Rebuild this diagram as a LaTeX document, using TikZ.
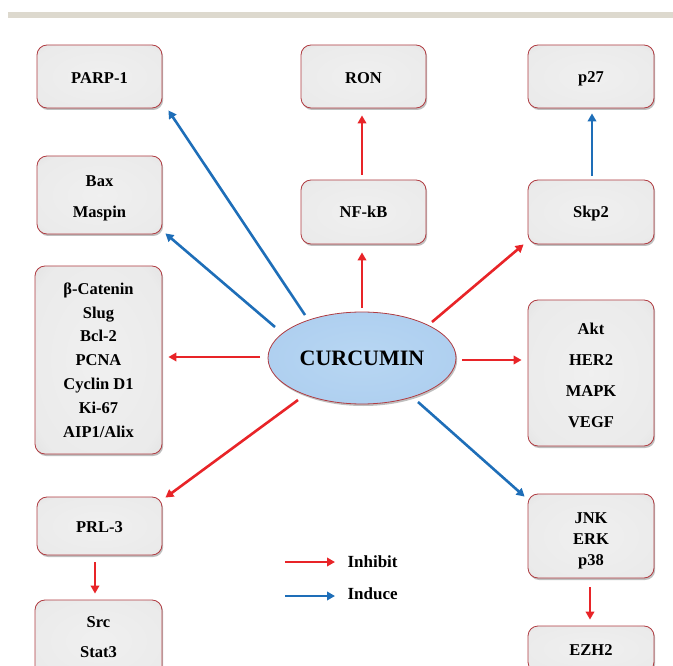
\documentclass[tikz,border=0pt]{standalone}
\usepackage{fontspec}
\setmainfont{Liberation Serif}
\usetikzlibrary{arrows.meta,shapes.geometric,shadows}
\definecolor{boxline}{RGB}{176,60,66}
\definecolor{redarr}{RGB}{232,36,40}
\definecolor{bluearr}{RGB}{30,110,184}
\definecolor{band}{RGB}{221,217,206}
\newcommand{\mystrut}[1]{\rule{0pt}{#1}}
\pgfdeclareradialshading{boxshade}{\pgfpoint{0bp}{0bp}}{%
  color(0bp)=(black!6); color(30bp)=(black!8); color(44bp)=(black!15); color(52bp)=(black!30); color(72bp)=(black!40)}
\pgfdeclareradialshading{ellshade}{\pgfpoint{0bp}{0bp}}{%
  rgb(0bp)=(0.72,0.84,0.95); rgb(30bp)=(0.68,0.81,0.94); rgb(46bp)=(0.58,0.74,0.90); rgb(60bp)=(0.50,0.67,0.86)}
\tikzset{
  gbox/.style={draw=boxline, line width=0.8pt, shading=boxshade, rounded corners=10pt,
    inner sep=0pt, align=center, font=\fontsize{16.5}{19}\selectfont\bfseries,
    drop shadow={shadow xshift=1.2pt, shadow yshift=-2pt, opacity=0.5}},
  inh/.style={draw=redarr, line width=2.6pt, -{Triangle[length=8pt,width=8.5pt]}},
  ind/.style={draw=bluearr, line width=2.6pt, -{Triangle[length=8pt,width=8.5pt]}},
  legtext/.style={anchor=west, font=\fontsize{17}{19}\selectfont\bfseries}
}
\begin{document}
\begin{tikzpicture}[x=1pt,y=-1pt]
\useasboundingbox (0,0) rectangle (673,666);
\clip (0,0) rectangle (673,666);
\fill[band] (8,12) rectangle (673,18);

\node[gbox, minimum width=125pt, minimum height=63pt] (parp) at (99.5,76.5) {\mystrut{15pt}PARP-1};
\node[gbox, minimum width=125pt, minimum height=63pt] (ron) at (363.5,76.5) {\mystrut{15pt}RON};
\node[gbox, minimum width=126pt, minimum height=63pt] (p27) at (591,76.5) {\mystrut{15pt}p27};
\node[gbox, minimum width=125pt, minimum height=78pt, font=\fontsize{16.5}{31}\selectfont\bfseries] (bax) at (99.5,195) {\mystrut{17pt}Bax\\Maspin};
\node[gbox, minimum width=125pt, minimum height=64pt] (nfkb) at (363.5,212) {NF-kB};
\node[gbox, minimum width=126pt, minimum height=64pt] (skp2) at (591,212) {\mystrut{15pt}Skp2};
\node[gbox, minimum width=127pt, minimum height=188pt, font=\fontsize{16.5}{23.8}\selectfont\bfseries] (list) at (98.5,360)
  {β-Catenin\\Slug\\Bcl-2\\PCNA\\Cyclin D1\\Ki-67\\AIP1/Alix};
\node[ellipse, draw=boxline, line width=0.8pt, shading=ellshade, minimum width=188pt, minimum height=92pt,
  inner sep=0pt, font=\fontsize{22}{24}\selectfont\bfseries,
  drop shadow={shadow xshift=1.2pt, shadow yshift=-2pt, opacity=0.5}] (curc) at (362,358) {CURCUMIN};
\node[gbox, minimum width=126pt, minimum height=146pt, font=\fontsize{16.5}{31}\selectfont\bfseries] (akt) at (591,373) {\mystrut{15.5pt}Akt\\HER2\\MAPK\\VEGF};
\node[gbox, minimum width=125pt, minimum height=58pt] (prl) at (99.5,526) {\mystrut{13pt}PRL-3};
\node[gbox, minimum width=126pt, minimum height=84pt, font=\fontsize{16.5}{21}\selectfont\bfseries] (jnk) at (591,536) {\mystrut{21pt}JNK\\ERK\\p38};
\node[gbox, minimum width=127pt, minimum height=82pt, font=\fontsize{16.5}{30}\selectfont\bfseries] (src) at (98.5,641) {Src\\Stat3\rule[-8pt]{0pt}{8pt}};
\node[gbox, minimum width=126pt, minimum height=46pt] (ezh2) at (591,649) {\mystrut{13pt}EZH2};

% arrows
\draw[ind] ([shift={(-57,-43)}]curc.center) -- ([shift={(6,2)}]parp.south east);
\draw[ind] ([shift={(-87,-31)}]curc.center) -- ([shift={(3,-1)}]bax.south east);
\draw[inh] ([shift={(-102,-1)}]curc.center) -- ([shift={(6,-3)}]list.east);
\draw[inh] ([shift={(0,-4)}]curc.north) -- ([shift={(-1.5,8)}]nfkb.south);
\draw[inh] ([shift={(-1.5,-5)}]nfkb.north) -- ([shift={(-1.5,7)}]ron.south);
\draw[inh] ([shift={(70,-36)}]curc.center) -- ([shift={(-4,0)}]skp2.south west);
\draw[ind] ([shift={(1,-4)}]skp2.north) -- ([shift={(1,5)}]p27.south);
\draw[inh] ([shift={(6,2)}]curc.east) -- ([shift={(-6,-13)}]akt.west);
\draw[ind] ([shift={(56,44)}]curc.center) -- ([shift={(-3,3)}]jnk.north west);
\draw[inh] ([shift={(-64,42)}]curc.center) -- ([shift={(3,1)}]prl.north east);
\draw[inh] ([shift={(-4.5,7)}]prl.south) -- ([shift={(-3.5,-6)}]src.north);
\draw[inh] ([shift={(-1,9)}]jnk.south) -- ([shift={(-1,-6)}]ezh2.north);

% legend
\coordinate (l1a) at (285,562);
\coordinate (l1b) at (335,562);
\coordinate (l2a) at (285,596);
\coordinate (l2b) at (335,596);
\draw[inh] (l1a) -- (l1b);
\draw[ind] (l2a) -- (l2b);
\node[legtext] (inhtxt) at (344,562) {Inhibit};
\node[legtext] (indtxt) at (344,594) {Induce};
\end{tikzpicture}
\end{document}
